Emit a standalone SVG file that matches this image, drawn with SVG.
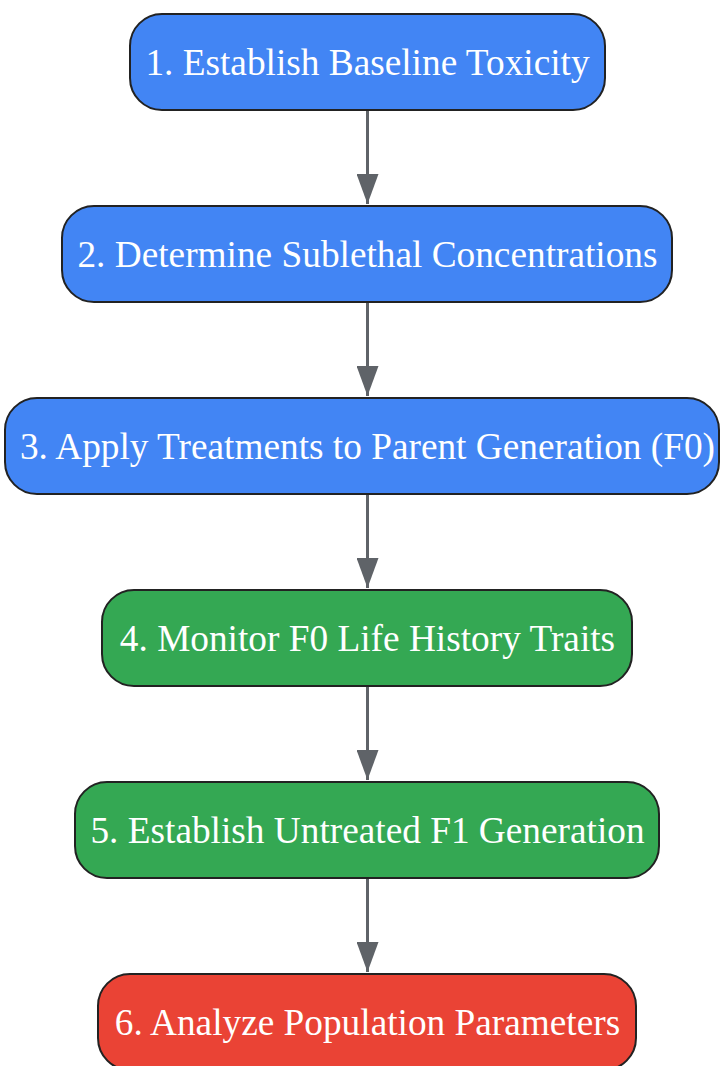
<svg xmlns="http://www.w3.org/2000/svg" width="722" height="1066" viewBox="0 0 722 1066">
<style>
.n rect{stroke:#222;stroke-width:2}
.b rect{fill:#4285F4}
.g rect{fill:#34A853}
.r rect{fill:#EA4335}
.n text{fill:#fff;font-family:"Liberation Serif","Times New Roman",serif;font-size:37.3px;text-anchor:middle;dominant-baseline:central}
.e line{stroke:#5f6368;stroke-width:3}
</style>
<defs>
<marker id="ah" viewBox="0 0 30 22" refX="30" refY="11" markerWidth="30" markerHeight="22" markerUnits="userSpaceOnUse" orient="auto">
<path d="M0,0 L30,11 L0,22 Z" fill="#5f6368"/>
</marker>
</defs>
<g id="edges" class="e">
<line x1="367.5" y1="110" x2="367.5" y2="204" marker-end="url(#ah)"/>
<line x1="367.5" y1="302" x2="367.5" y2="396" marker-end="url(#ah)"/>
<line x1="367.5" y1="494" x2="367.5" y2="588" marker-end="url(#ah)"/>
<line x1="367.5" y1="686" x2="367.5" y2="780" marker-end="url(#ah)"/>
<line x1="367.5" y1="878" x2="367.5" y2="972" marker-end="url(#ah)"/>
</g>
<g id="node1" class="n b"><rect x="130" y="14" width="475" height="96" rx="32"/><text x="367.5" y="62">1. Establish Baseline Toxicity</text></g>
<g id="node2" class="n b"><rect x="62" y="206" width="610" height="96" rx="32"/><text x="367.5" y="254">2. Determine Sublethal Concentrations</text></g>
<g id="node3" class="n b"><rect x="5" y="398" width="714" height="96" rx="32"/><text x="367.5" y="446">3. Apply Treatments to Parent Generation (F0)</text></g>
<g id="node4" class="n g"><rect x="102" y="590" width="530" height="96" rx="32"/><text x="367.5" y="638">4. Monitor F0 Life History Traits</text></g>
<g id="node5" class="n g"><rect x="75" y="782" width="584" height="96" rx="32"/><text x="367.5" y="830">5. Establish Untreated F1 Generation</text></g>
<g id="node6" class="n r"><rect x="98" y="974" width="538" height="96" rx="32"/><text x="367.5" y="1022">6. Analyze Population Parameters</text></g>
</svg>
